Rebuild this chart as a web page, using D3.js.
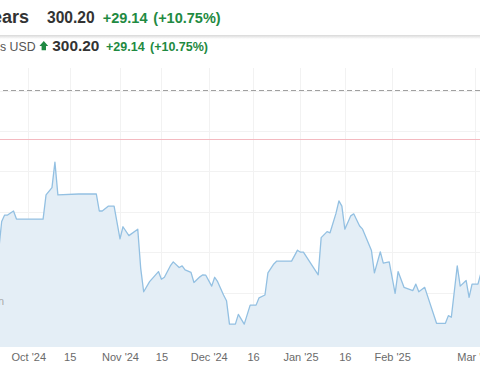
<!DOCTYPE html>
<html>
<head>
<meta charset="utf-8">
<script src="https://cdn.jsdelivr.net/npm/d3@7"></script>
<style>
  html, body { margin: 0; padding: 0; background: #fff; overflow: hidden; }
  svg { display: block; font-family: "Liberation Sans", Arial, sans-serif; }
</style>
</head>
<body>
<svg id="chart" width="480" height="384"></svg>
<script>
// ---- data ----
const dates = [
  "2024-09-21","2024-09-22","2024-09-23","2024-09-24","2024-09-26","2024-09-27",
  "2024-10-06","2024-10-07","2024-10-09","2024-10-10","2024-10-11","2024-10-18",
  "2024-10-24","2024-10-25","2024-10-26","2024-10-28","2024-10-30",
  "2024-11-01","2024-11-02","2024-11-04","2024-11-07","2024-11-08","2024-11-09",
  "2024-11-11","2024-11-14","2024-11-15","2024-11-16","2024-11-18","2024-11-19",
  "2024-11-21","2024-11-22","2024-11-23","2024-11-25","2024-11-26","2024-11-28",
  "2024-11-29","2024-11-30","2024-12-02","2024-12-03","2024-12-04","2024-12-06",
  "2024-12-07","2024-12-08","2024-12-10","2024-12-11","2024-12-13","2024-12-15",
  "2024-12-17","2024-12-18","2024-12-20","2024-12-21","2024-12-23","2024-12-24",
  "2024-12-29","2024-12-31","2025-01-01","2025-01-02","2025-01-07","2025-01-08",
  "2025-01-10","2025-01-11","2025-01-13","2025-01-14","2025-01-15","2025-01-16",
  "2025-01-18","2025-01-19","2025-01-21","2025-01-22","2025-01-25","2025-01-26",
  "2025-01-28","2025-01-29","2025-01-31","2025-02-02","2025-02-03","2025-02-05",
  "2025-02-08","2025-02-09","2025-02-10","2025-02-12","2025-02-16","2025-02-19",
  "2025-02-20","2025-02-21","2025-02-23","2025-02-24","2025-02-26","2025-02-27",
  "2025-02-28","2025-03-02","2025-03-03","2025-03-04"
];
const values = [
  230.5,237.6,239.2,239.2,240.2,238.2,
  238.2,244.2,246.0,252.3,244.2,244.4,
  244.4,240.2,240.2,241.4,241.4,
  233.3,236.3,234.1,235.7,226.0,220.2,
  222.7,225.2,223.3,223.8,226.6,227.6,
  226.2,226.6,225.6,225.0,222.5,223.9,
  224.4,224.3,221.6,223.8,222.7,219.4,
  218.0,212.2,212.2,214.6,212.2,216.9,
  216.9,218.7,219.4,224.9,227.1,227.8,
  227.8,230.5,230.0,230.0,224.4,233.6,
  235.1,234.8,239.6,242.7,241.4,235.7,
  239.0,239.5,236.5,235.7,230.4,224.9,
  230.1,227.3,227.6,219.8,225.2,221.3,
  220.5,222.1,220.2,221.3,212.4,212.4,
  214.3,213.9,226.6,221.6,223.0,218.8,
  222.1,222.1,224.8,226.1
];
const tickDates = ["2024-10-01","2024-10-15","2024-11-01","2024-11-15","2024-12-01",
                   "2024-12-16","2025-01-01","2025-01-16","2025-02-01","2025-03-01"];
const tickLabels = ["Oct '24","15","Nov '24","15","Dec '24","16","Jan '25","16","Feb '25","Mar '25"];
const gridValues = [210, 220, 230, 240, 250, 260, 270];
const dashedLevel = 270.2;
const pinkLevel = 257.9;
const titleText = "Years";
const subText = "s USD";
const lastPrice = "300.20";
const changeText = "+29.14";
const changePct = "(+10.75%)";

// ---- chart ----
const svg = d3.select("#chart");
const W = 480, H = 384;
const plotTop = 68, plotBottom = 347;
const parse = d3.timeParse("%Y-%m-%d");
const data = dates.map((d, i) => ({ date: parse(d), value: values[i] }));

const x = d3.scaleTime()
  .domain([parse("2024-10-01"), parse("2025-03-01")])
  .range([28.3, 475]);
const y = d3.scaleLinear()
  .domain([210, 260])
  .range([333, 131]);

// horizontal grid
svg.append("g").selectAll("line")
  .data(gridValues.filter(v => y(v) >= plotTop && y(v) <= plotBottom))
  .join("line")
  .attr("x1", 0).attr("x2", W)
  .attr("y1", d => Math.round(y(d)) + 0.5).attr("y2", d => Math.round(y(d)) + 0.5)
  .attr("stroke", "#f2f2f2").attr("stroke-width", 1);

// vertical grid
svg.append("g").selectAll("line")
  .data(tickDates.map(parse))
  .join("line")
  .attr("x1", d => Math.round(x(d)) + 0.5).attr("x2", d => Math.round(x(d)) + 0.5)
  .attr("y1", plotTop).attr("y2", plotBottom)
  .attr("stroke", "#f2f2f2").attr("stroke-width", 1);

// area + line
const area = d3.area()
  .x(d => x(d.date))
  .y0(plotBottom)
  .y1(d => y(d.value));
const line = d3.line()
  .x(d => x(d.date))
  .y(d => y(d.value));

svg.append("path").datum(data)
  .attr("d", area)
  .attr("fill", "#e3edf6")
  .attr("fill-opacity", 0.95);

svg.append("path").datum(data)
  .attr("d", line)
  .attr("fill", "none")
  .attr("stroke", "#93c0e2")
  .attr("stroke-width", 1.3)
  .attr("stroke-linejoin", "round");

// reference lines
svg.append("line")
  .attr("x1", 3).attr("x2", W)
  .attr("y1", Math.round(y(dashedLevel)) + 0.5).attr("y2", Math.round(y(dashedLevel)) + 0.5)
  .attr("stroke", "#a0a0a0").attr("stroke-width", 1)
  .attr("stroke-dasharray", "5,3");

svg.append("line")
  .attr("x1", 0).attr("x2", W)
  .attr("y1", Math.round(y(pinkLevel)) + 0.5).attr("y2", Math.round(y(pinkLevel)) + 0.5)
  .attr("stroke", "#f4b9c0").attr("stroke-width", 1);

// small cut-off label at left edge
svg.append("text")
  .attr("x", 4).attr("y", 305)
  .attr("text-anchor", "end")
  .attr("font-size", 11)
  .attr("fill", "#aaa")
  .text("n");

// x axis labels
const xAxis = d3.axisBottom(x)
  .tickValues(tickDates.map(parse))
  .tickFormat((d, i) => tickLabels[i])
  .tickSize(0)
  .tickPadding(0);
const gx = svg.append("g")
  .attr("transform", `translate(0,${plotBottom})`)
  .call(xAxis);
gx.select(".domain").remove();
gx.selectAll("text")
  .attr("dy", null)
  .attr("y", 14)
  .attr("font-size", 11)
  .attr("font-family", "'Liberation Sans', Arial, sans-serif")
  .attr("fill", "#6a6a6a");

// ---- header ----
const defs = svg.append("defs");
const grad = defs.append("linearGradient")
  .attr("id", "shadow").attr("x1", 0).attr("x2", 0).attr("y1", 0).attr("y2", 1);
grad.append("stop").attr("offset", "0%").attr("stop-color", "#d8d8d8");
grad.append("stop").attr("offset", "100%").attr("stop-color", "#ffffff");
svg.append("rect").attr("x", 0).attr("y", 35).attr("width", W).attr("height", 4)
  .attr("fill", "url(#shadow)");

const green = "#1f8a42";
svg.append("text").attr("x", 29).attr("y", 23).attr("text-anchor", "end")
  .attr("font-size", 18).attr("font-weight", "bold").attr("fill", "#333")
  .text(titleText);
svg.append("text").attr("x", 47).attr("y", 22.7)
  .attr("font-size", 15.6).attr("font-weight", "bold").attr("fill", "#333")
  .text(lastPrice);
svg.append("text").attr("x", 102.7).attr("y", 22.7)
  .attr("font-size", 14.5).attr("font-weight", "bold").attr("fill", green)
  .text(changeText);
svg.append("text").attr("x", 153.3).attr("y", 22.7)
  .attr("font-size", 14.5).attr("font-weight", "bold").attr("fill", green)
  .text(changePct);

svg.append("text").attr("x", 0).attr("y", 50.5)
  .attr("font-size", 12.3).attr("fill", "#555")
  .text(subText);
svg.append("path")
  .attr("d", "M43.8,41 L48.2,46 L46,46 L46,50.3 L41.6,50.3 L41.6,46 L39.4,46 Z")
  .attr("fill", green);
svg.append("text").attr("x", 52.3).attr("y", 50.7)
  .attr("font-size", 15.4).attr("font-weight", "bold").attr("fill", "#333")
  .text(lastPrice);
svg.append("text").attr("x", 106).attr("y", 50.5)
  .attr("font-size", 12.5).attr("font-weight", "bold").attr("fill", green)
  .text(changeText);
svg.append("text").attr("x", 150).attr("y", 50.5)
  .attr("font-size", 12.5).attr("font-weight", "bold").attr("fill", green)
  .text(changePct);
</script>
</body>
</html>
